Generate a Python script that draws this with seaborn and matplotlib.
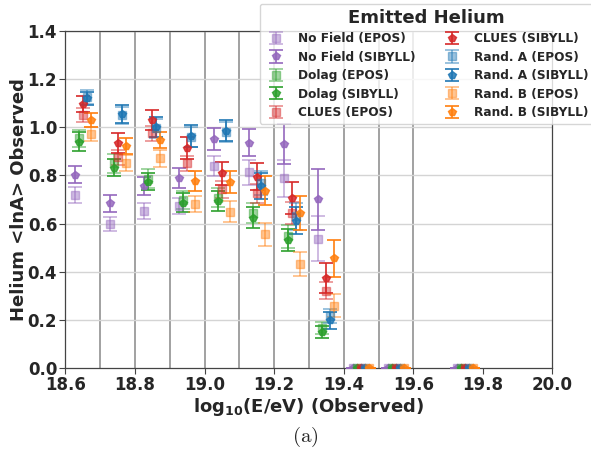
import numpy as np
import matplotlib
matplotlib.use("Agg")
import matplotlib.pyplot as plt
import seaborn as sns

# Energy bins (log10 E/eV) where the composition was evaluated
bin_x = [18.65, 18.75, 18.85, 18.95, 19.05, 19.15, 19.25, 19.35, 19.45, 19.55, 19.75]
bin_edges = [18.7, 18.8, 18.9, 19.0, 19.1, 19.2, 19.3, 19.4, 19.5, 19.6]

models = ["No Field", "Dolag", "CLUES", "Rand. A", "Rand. B"]

# <lnA> of emitted helium, per model and hadronic interaction model
nofield_epos = [0.717, 0.598, 0.654, 0.673, 0.839, 0.813, 0.788, 0.537, 0.0, 0.0, 0.0]
nofield_epos_err = [0.033, 0.030, 0.033, 0.035, 0.040, 0.053, 0.076, 0.093, 0.0, 0.0, 0.0]
nofield_sibyll = [0.803, 0.684, 0.756, 0.788, 0.950, 0.936, 0.931, 0.701, 0.0, 0.0, 0.0]
nofield_sibyll_err = [0.035, 0.035, 0.037, 0.042, 0.046, 0.056, 0.083, 0.127, 0.0, 0.0, 0.0]

dolag_epos = [0.955, 0.850, 0.787, 0.698, 0.708, 0.643, 0.548, 0.165, 0.0, 0.0, 0.0]
dolag_epos_err = [0.035, 0.040, 0.038, 0.038, 0.040, 0.042, 0.048, 0.025, 0.0, 0.0, 0.0]
dolag_sibyll = [0.940, 0.832, 0.774, 0.687, 0.694, 0.624, 0.532, 0.150, 0.0, 0.0, 0.0]
dolag_sibyll_err = [0.040, 0.035, 0.036, 0.038, 0.042, 0.044, 0.046, 0.024, 0.0, 0.0, 0.0]

clues_epos = [1.051, 0.875, 0.975, 0.850, 0.742, 0.726, 0.643, 0.321, 0.0, 0.0, 0.0]
clues_epos_err = [0.028, 0.030, 0.030, 0.030, 0.035, 0.040, 0.045, 0.035, 0.0, 0.0, 0.0]
clues_sibyll = [1.096, 0.936, 1.030, 0.915, 0.809, 0.795, 0.705, 0.373, 0.0, 0.0, 0.0]
clues_sibyll_err = [0.033, 0.042, 0.042, 0.045, 0.048, 0.055, 0.067, 0.062, 0.0, 0.0, 0.0]

randa_epos = [1.125, 1.050, 0.995, 0.960, 0.980, 0.770, 0.630, 0.215, 0.0, 0.0, 0.0]
randa_epos_err = [0.030, 0.035, 0.040, 0.040, 0.040, 0.050, 0.055, 0.030, 0.0, 0.0, 0.0]
randa_sibyll = [1.120, 1.054, 1.000, 0.964, 0.985, 0.756, 0.612, 0.199, 0.0, 0.0, 0.0]
randa_sibyll_err = [0.028, 0.038, 0.042, 0.045, 0.044, 0.055, 0.057, 0.035, 0.0, 0.0, 0.0]

randb_epos = [0.972, 0.850, 0.871, 0.681, 0.650, 0.555, 0.432, 0.258, 0.0, 0.0, 0.0]
randb_epos_err = [0.028, 0.033, 0.036, 0.033, 0.042, 0.047, 0.048, 0.048, 0.0, 0.0, 0.0]
randb_sibyll = [1.030, 0.922, 0.947, 0.777, 0.774, 0.737, 0.645, 0.456, 0.0, 0.0, 0.0]
randb_sibyll_err = [0.030, 0.033, 0.035, 0.042, 0.046, 0.059, 0.070, 0.076, 0.0, 0.0, 0.0]

epos_vals = [nofield_epos, dolag_epos, clues_epos, randa_epos, randb_epos]
epos_errs = [nofield_epos_err, dolag_epos_err, clues_epos_err, randa_epos_err, randb_epos_err]
sibyll_vals = [nofield_sibyll, dolag_sibyll, clues_sibyll, randa_sibyll, randb_sibyll]
sibyll_errs = [nofield_sibyll_err, dolag_sibyll_err, clues_sibyll_err, randa_sibyll_err, randb_sibyll_err]

sns.set_theme(style="ticks")
plt.rcParams["font.family"] = ["DejaVu Sans"]

pal = sns.color_palette("tab10")
model_colors = [pal[4], pal[2], pal[3], pal[0], pal[1]]
offsets = [-0.023, -0.0115, 0.0, 0.0115, 0.023]

fig = plt.figure(figsize=(5.91, 4.55), dpi=100)
ax = fig.add_axes([0.1108, 0.1912, 0.8239, 0.7407])

# bin boundaries and horizontal grid
for e in bin_edges:
    ax.axvline(e, color="#9a9a9a", lw=1.3, zorder=0)
for yv in np.arange(0.2, 1.41, 0.2):
    ax.axhline(yv, color="#d4d4d4", lw=1.0, zorder=0)

bx = np.array(bin_x)
for name, col, off, ev, ee, sv, se in zip(models, model_colors, offsets,
                                          epos_vals, epos_errs, sibyll_vals, sibyll_errs):
    ax.errorbar(bx + off, ev, yerr=ee, fmt="s", color=col, alpha=0.45,
                ms=5.5, capsize=5, elinewidth=1.4, capthick=1.4,
                label=f"{name} (EPOS)", zorder=3)
    ax.errorbar(bx + off, sv, yerr=se, fmt="p", color=col, alpha=0.85,
                ms=5.5, capsize=5, elinewidth=1.4, capthick=1.4,
                label=f"{name} (SIBYLL)", zorder=3)

ax.set_xlim(18.6, 20.0)
ax.set_ylim(0.0, 1.4)
ax.set_xticks([18.6, 18.8, 19.0, 19.2, 19.4, 19.6, 19.8, 20.0])
ax.set_yticks([0.0, 0.2, 0.4, 0.6, 0.8, 1.0, 1.2, 1.4])
ax.tick_params(axis="both", labelsize=12, length=4, width=0.8, pad=2, color="#444444")
for lab in ax.get_xticklabels() + ax.get_yticklabels():
    lab.set_fontweight("bold")
for sp in ax.spines.values():
    sp.set_color("#444444")
    sp.set_linewidth(0.9)

ax.set_xlabel(r"log$_{\mathbf{10}}$(E/eV) (Observed)", fontsize=13, fontweight="bold", labelpad=1)
ax.set_ylabel("Helium <lnA> Observed", fontsize=13, fontweight="bold", labelpad=0)

handles, labels = ax.get_legend_handles_labels()
leg = ax.legend(handles, labels, loc="upper left", ncol=2,
                bbox_to_anchor=(260 / 591, 1 - 4 / 455), bbox_transform=fig.transFigure,
                borderaxespad=0.0, title="Emitted Helium",
                prop=dict(weight="bold", size=8.7),
                title_fontproperties=dict(weight="bold", size=13),
                handlelength=1.85, handletextpad=0.9, columnspacing=2.1,
                labelspacing=0.45, framealpha=0.8, fancybox=True)

fig.text(305 / 591, 1 - 437 / 455, r"$\mathrm{(a)}$", ha="center", va="center",
         fontsize=15, math_fontfamily="cm")

fig.savefig("out.png", dpi=100)
